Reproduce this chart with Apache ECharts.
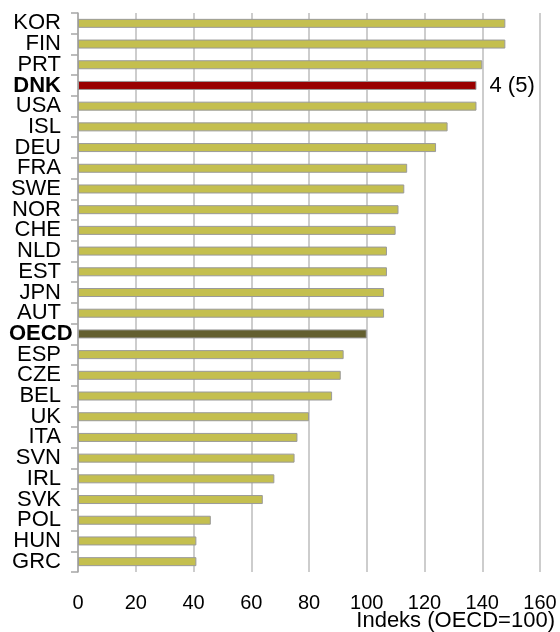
<!DOCTYPE html>
<html>
<head>
<meta charset="utf-8">
<script src="https://cdn.jsdelivr.net/npm/echarts@6/dist/echarts.min.js"></script>
<style>
html,body{margin:0;padding:0;background:#fff;}
#chart{width:560px;height:632px;}
</style>
</head>
<body>
<div id="chart"></div>
<script>
const categories = ['KOR','FIN','PRT','DNK','USA','ISL','DEU','FRA','SWE','NOR','CHE','NLD','EST','JPN','AUT','OECD','ESP','CZE','BEL','UK','ITA','SVN','IRL','SVK','POL','HUN','GRC'];
const values = [148,148,140,138,138,128,124,114,113,111,110,107,107,106,106,100,92,91,88,80,76,75,68,64,46,41,41];
const highlightCountry = 'DNK';
const referenceCategory = 'OECD';
const highlightLabel = '4 (5)';
const xTicks = [0,20,40,60,80,100,120,140,160];
const axisTitle = 'Indeks (OECD=100)';

const FONT = 'Liberation Sans, Arial, sans-serif';
const data = categories.map((c, i) => {
  let color = '#C4BF4F';
  if (c === highlightCountry) color = '#990000';
  if (c === referenceCategory) color = '#635F2F';
  const item = { value: values[i], itemStyle: { color: color } };
  if (c === highlightCountry) {
    item.label = { show: true, position: 'right', distance: 13, formatter: highlightLabel,
      fontSize: 22, fontFamily: FONT, color: '#000' };
  }
  return item;
});

const chart = echarts.init(document.getElementById('chart'), null, { renderer: 'canvas' });
chart.setOption({
  animation: false,
  backgroundColor: '#fff',
  grid: { left: 78, right: 20, top: 13, bottom: 60, containLabel: false, outerBoundsMode: 'none' },
  xAxis: {
    type: 'value', min: xTicks[0], max: xTicks[xTicks.length - 1], interval: xTicks[1] - xTicks[0],
    axisLine: { show: false }, axisTick: { show: false },
    splitLine: { show: true, lineStyle: { color: '#BDBDBD', width: 1.5 } },
    axisLabel: { margin: 21, fontSize: 20, fontFamily: FONT, color: '#000' }
  },
  yAxis: {
    type: 'category', data: categories, inverse: true,
    axisLine: { show: true, lineStyle: { color: '#A6A6A6', width: 1.5 } },
    axisTick: { show: true, length: 7, lineStyle: { color: '#A6A6A6', width: 1.5 } },
    axisLabel: {
      interval: 0, margin: 17, fontSize: 22, fontFamily: FONT, color: '#000', hideOverlap: false,
      formatter: function (v) {
        if (v === highlightCountry) return '{b|' + v + '}';
        if (v === referenceCategory) return '{o|' + v + '}';
        return v;
      },
      rich: {
        b: { fontWeight: 'bold', fontSize: 22, fontFamily: FONT, color: '#000' },
        o: { fontWeight: 'bold', fontSize: 22, fontFamily: FONT, color: '#000', width: 52, align: 'left', overflow: 'none' }
      }
    }
  },
  series: [{
    type: 'bar', data: data, barWidth: 9,
    itemStyle: { borderColor: '#9A9A9A', borderWidth: 1 }
  }],
  graphic: [{
    type: 'text', right: 5, bottom: 0,
    style: { text: axisTitle, fontSize: 22, fontFamily: FONT, fill: '#000' }
  }]
});
</script>
</body>
</html>
